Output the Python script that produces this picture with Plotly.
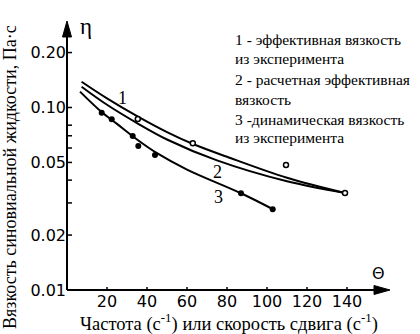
import plotly.graph_objects as go
import math

# ---- data ----
# curve 1: effective viscosity (experiment) - fitted line and open-circle points
c1_x = [7.3, 20, 35.5, 50, 63, 80, 110, 139]
c1_y = [0.1384, 0.1122, 0.0891, 0.0733, 0.0631, 0.0537, 0.0412, 0.0340]
p1_x = [35.4, 62.9, 109.5, 139]
p1_y = [0.0865, 0.0637, 0.0484, 0.0340]

# curve 2: calculated effective viscosity
c2_x = [7.3, 20, 35, 50, 75, 110, 139]
c2_y = [0.130, 0.1035, 0.0822, 0.0668, 0.0513, 0.0394, 0.0340]

# curve 3: dynamic viscosity (experiment) - line and filled points
c3_x = [6.5, 17, 25, 35, 45, 60, 87, 103]
c3_y = [0.1222, 0.0951, 0.0813, 0.0668, 0.0562, 0.0457, 0.0339, 0.0277]
p3_x = [17.35, 22.35, 32.85, 35.65, 44, 87, 102.85]
p3_y = [0.0936, 0.0861, 0.0698, 0.0615, 0.0549, 0.0339, 0.0277]

x_ticks = [20, 40, 60, 80, 100, 120, 140]
y_tick_marks = [0.02, 0.03, 0.04, 0.05, 0.06, 0.07, 0.08, 0.10, 0.20]
y_label_vals = [0.01, 0.02, 0.05, 0.10, 0.20]
y_label_text = ["0.01", "0.02", "0.05", "0.10", "0.20"]

legend_lines = [
    "1 - эффективная вязкость",
    "из эксперимента",
    "2 - расчетная эффективная",
    "вязкость",
    "3 -динамическая вязкость",
    "из эксперимента",
]
curve_labels = ["1", "2", "3"]

# ---- layout geometry ----
W, H = 420, 334
L, R, T, B = 67, 32, 22, 44
PW, PH = W - L - R, H - T - B
PX_PER_DECADE = 182.5
X_PER_UNIT = 2.0


def X(px):
    return (px - L) / PW


def Y(py):
    return (H - B - py) / PH


SERIF = "Liberation Serif, Times New Roman, serif"
SANS = "DejaVu Sans, Arial, sans-serif"

fig = go.Figure()
line_style = dict(color="black", width=2, shape="spline", smoothing=1.0)
for cx, cy in [(c1_x, c1_y), (c2_x, c2_y), (c3_x, c3_y)]:
    fig.add_trace(go.Scatter(x=cx, y=cy, mode="lines", line=line_style,
                             showlegend=False, hoverinfo="skip"))
fig.add_trace(go.Scatter(x=p1_x, y=p1_y, mode="markers",
                         marker=dict(symbol="circle", size=5, color="white",
                                     line=dict(color="black", width=1.5)),
                         showlegend=False))
fig.add_trace(go.Scatter(x=p3_x, y=p3_y, mode="markers",
                         marker=dict(symbol="circle", size=6, color="black"),
                         showlegend=False))

annotations = []
# curve number labels (data coords; log axis -> log10)
for lab, (ax_, ay_) in zip(curve_labels, [(27.5, 0.1127), (75, 0.0443), (75.5, 0.0323)]):
    annotations.append(dict(x=ax_, y=math.log10(ay_), xref="x", yref="y", text=lab,
                            xanchor="center", yanchor="middle",
                            showarrow=False, font=dict(family=SERIF, size=18, color="black")))

# legend text block
for txt, py in zip(legend_lines, [40, 58, 80, 100, 119, 137]):
    annotations.append(dict(x=X(233), y=Y(py), xref="paper", yref="paper", text=txt,
                            xanchor="left", yanchor="middle", showarrow=False,
                            font=dict(family=SERIF, size=15.5, color="black")))

# axis symbols
annotations.append(dict(x=X(86), y=Y(26), xref="paper", yref="paper", text="η",
                        xanchor="center", yanchor="middle",
                        showarrow=False, font=dict(family=SERIF, size=23, color="black")))
annotations.append(dict(x=X(378), y=Y(273), xref="paper", yref="paper", text="Θ",
                        xanchor="center", yanchor="middle",
                        showarrow=False, font=dict(family=SANS, size=16, color="black")))

# axis titles
annotations.append(dict(x=X(78), y=Y(322), xref="paper", yref="paper",
                        text="Частота (с<sup>-1</sup>) или скорость сдвига (с<sup>-1</sup>)",
                        showarrow=False, xanchor="left", yanchor="middle",
                        font=dict(family=SERIF, size=18.5, color="black")))
annotations.append(dict(x=X(10), y=Y(331), xref="paper", yref="paper",
                        text="Вязкость синовиальной жидкости, Па·с", textangle=-90,
                        showarrow=False, xanchor="center", yanchor="bottom",
                        font=dict(family=SERIF, size=18, color="black")))

# axis lines with arrowheads
shapes = [
    dict(type="line", xref="paper", yref="paper", layer="above",
         x0=0, y0=0, x1=0, y1=Y(30), line=dict(color="black", width=2)),
    dict(type="line", xref="paper", yref="paper", layer="above",
         x0=0, y0=0, x1=X(380), y1=0, line=dict(color="black", width=2)),
    dict(type="path", xref="paper", yref="paper", layer="above",
         path="M %.5f,%.5f L %.5f,%.5f L %.5f,%.5f Z" % (X(L - 4.5), Y(37), X(L + 4.5), Y(37), X(L), Y(21)),
         fillcolor="black", line=dict(color="black", width=1)),
    dict(type="path", xref="paper", yref="paper", layer="above",
         path="M %.5f,%.5f L %.5f,%.5f L %.5f,%.5f Z" % (X(374), Y(285.5), X(374), Y(294.5), X(390), Y(290)),
         fillcolor="black", line=dict(color="black", width=1)),
]
# tick marks (inside)
for v in y_tick_marks:
    yp = PX_PER_DECADE * (math.log10(v) + 2) / PH
    shapes.append(dict(type="line", xref="paper", yref="paper", layer="above",
                       x0=0, x1=X(L + 5), y0=yp, y1=yp, line=dict(color="black", width=1.5)))
for v in x_ticks:
    xp = v * X_PER_UNIT / PW
    shapes.append(dict(type="line", xref="paper", yref="paper", layer="above",
                       x0=xp, x1=xp, y0=0, y1=Y(287), line=dict(color="black", width=1.5)))

fig.update_layout(
    width=W, height=H,
    margin=dict(l=L, r=R, t=T, b=B, pad=0),
    paper_bgcolor="white", plot_bgcolor="white",
    showlegend=False,
    annotations=annotations,
    shapes=shapes,
    xaxis=dict(range=[0, PW / X_PER_UNIT], tickvals=x_ticks, ticks="",
               showline=False, showgrid=False, zeroline=False,
               tickfont=dict(family=SANS, size=16, color="black")),
    yaxis=dict(type="log", range=[-2, -2 + PH / PX_PER_DECADE], tickvals=y_label_vals,
               ticktext=y_label_text, ticks="", showline=False,
               showgrid=False, zeroline=False,
               tickfont=dict(family=SANS, size=16, color="black")),
)

fig.write_html("out.html", config={"displayModeBar": False},
               post_script="document.body.style.margin='0';document.body.style.padding='0';")
